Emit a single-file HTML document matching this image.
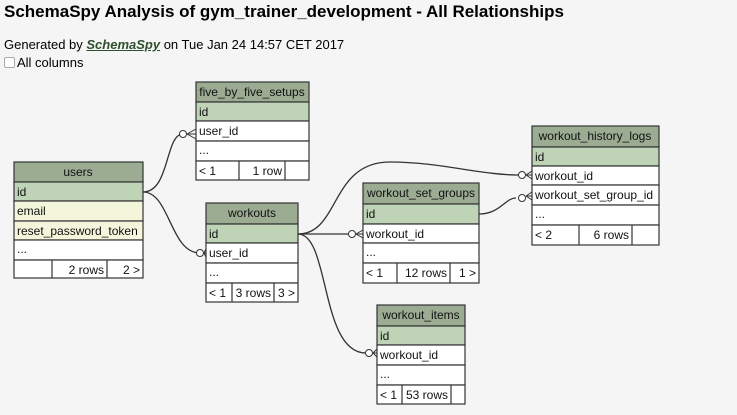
<!DOCTYPE html>
<html><head><meta charset="utf-8"><style>
body{margin:0;background:#f5f5f5;width:737px;height:415px;overflow:hidden;font-family:"Liberation Sans",Arial,sans-serif}
h1{position:absolute;left:4px;top:2px;margin:0;font-size:17px;font-weight:bold;color:#000}
.gen{position:absolute;left:4px;top:37px;font-size:13px}
.gen a{color:#2f4f2f;font-weight:bold;font-style:italic;text-decoration:underline}
.cb{position:absolute;left:4px;top:55px;font-size:13px}
.cb span{display:inline-block;width:9px;height:9px;border:1px solid #aaa;background:#fff;border-radius:2px;vertical-align:-1px;margin-right:2px}
svg{position:absolute;left:0;top:0}
svg text{font-family:"Liberation Sans",Arial,sans-serif;font-size:12px;fill:#111}
</style></head><body>
<h1>SchemaSpy Analysis of gym_trainer_development - All Relationships</h1>
<div class="gen">Generated by <a>SchemaSpy</a> on Tue Jan 24 14:57 CET 2017</div>
<div class="cb"><span></span>All columns</div>
<svg width="737" height="415" viewBox="0 0 737 415">
<g fill="none" stroke="#333" stroke-width="1.3">
<path d="M143,192 C170,192 165,134 183,134"/>
<path d="M143,192 C170,192 170,253 200,253"/>
<path d="M298,234 C340,234 330,162 390,162 C440,162 480,175 519,175"/>
<path d="M298,234 L349,234"/>
<path d="M298,234 C330,234 320,353 366,353"/>
<path d="M479,214 C500,214 505,198 516,198"/>
</g>
<g fill="none" stroke="#333" stroke-width="1">
<circle cx="183" cy="134" r="3.5" fill="#fff"/><path d="M187,134 L196,129 M187,134 L196,134 M187,134 L196,139"/>
<circle cx="200" cy="253" r="3.5" fill="#fff"/><path d="M204,253 L206,249 M204,253 L206,253 M204,253 L206,257"/>
<circle cx="352" cy="234" r="3.5" fill="#fff"/><path d="M356,234 L363,230 M356,234 L363,234 M356,234 L363,238"/>
<circle cx="369" cy="353" r="3.5" fill="#fff"/><path d="M373,353 L377,349 M373,353 L377,353 M373,353 L377,357"/>
<circle cx="522" cy="175" r="3.5" fill="#fff"/><path d="M526,175 L532,171 M526,175 L532,175 M526,175 L532,179"/>
<circle cx="522" cy="198" r="3.5" fill="#fff"/><path d="M526,196 L532,192 M526,196 L532,196 M526,196 L532,200"/>
</g>
<g stroke="#333" stroke-width="1.2">
<!-- users -->
<rect x="14" y="162" width="129" height="20" fill="#9bac93"/>
<rect x="14" y="182" width="129" height="19" fill="#bfd3b6"/>
<rect x="14" y="201" width="129" height="20" fill="#f4f6dc"/>
<rect x="14" y="221" width="129" height="19" fill="#f4f6dc"/>
<rect x="14" y="240" width="129" height="20" fill="#fff"/>
<rect x="14" y="260" width="129" height="18" fill="#fff"/>
<line x1="52" y1="260" x2="52" y2="278"/><line x1="107" y1="260" x2="107" y2="278"/>
<!-- five -->
<rect x="196" y="82" width="113" height="20" fill="#9bac93"/>
<rect x="196" y="102" width="113" height="19" fill="#bfd3b6"/>
<rect x="196" y="121" width="113" height="20" fill="#fff"/>
<rect x="196" y="141" width="113" height="20" fill="#fff"/>
<rect x="196" y="161" width="113" height="19" fill="#fff"/>
<line x1="239" y1="161" x2="239" y2="180"/><line x1="285" y1="161" x2="285" y2="180"/>
<!-- workouts -->
<rect x="206" y="203" width="92" height="21" fill="#9bac93"/>
<rect x="206" y="224" width="92" height="19" fill="#bfd3b6"/>
<rect x="206" y="243" width="92" height="20" fill="#fff"/>
<rect x="206" y="263" width="92" height="20" fill="#fff"/>
<rect x="206" y="283" width="92" height="19" fill="#fff"/>
<line x1="232" y1="283" x2="232" y2="302"/><line x1="274" y1="283" x2="274" y2="302"/>
<!-- wsg -->
<rect x="363" y="183" width="116" height="21" fill="#9bac93"/>
<rect x="363" y="204" width="116" height="20" fill="#bfd3b6"/>
<rect x="363" y="224" width="116" height="19" fill="#fff"/>
<rect x="363" y="243" width="116" height="20" fill="#fff"/>
<rect x="363" y="263" width="116" height="20" fill="#fff"/>
<line x1="397" y1="263" x2="397" y2="283"/><line x1="450" y1="263" x2="450" y2="283"/>
<!-- whl -->
<rect x="532" y="126" width="127" height="21" fill="#9bac93"/>
<rect x="532" y="147" width="127" height="19" fill="#bfd3b6"/>
<rect x="532" y="166" width="127" height="19" fill="#fff"/>
<rect x="532" y="185" width="127" height="20" fill="#fff"/>
<rect x="532" y="205" width="127" height="20" fill="#fff"/>
<rect x="532" y="225" width="127" height="20" fill="#fff"/>
<line x1="579" y1="225" x2="579" y2="245"/><line x1="632" y1="225" x2="632" y2="245"/>
<!-- items -->
<rect x="377" y="305" width="88" height="21" fill="#9bac93"/>
<rect x="377" y="326" width="88" height="19" fill="#bfd3b6"/>
<rect x="377" y="345" width="88" height="20" fill="#fff"/>
<rect x="377" y="365" width="88" height="20" fill="#fff"/>
<rect x="377" y="385" width="88" height="19" fill="#fff"/>
<line x1="402" y1="385" x2="402" y2="404"/><line x1="451" y1="385" x2="451" y2="404"/>
</g>
<g>
<text x="78" y="176" text-anchor="middle">users</text>
<text x="17" y="196">id</text><text x="17" y="215">email</text><text x="17" y="235">reset_password_token</text><text x="17" y="253" font-size="9">...</text>
<text x="104" y="274" text-anchor="end">2 rows</text><text x="140" y="274" text-anchor="end">2 &gt;</text>

<text x="252" y="96" text-anchor="middle">five_by_five_setups</text>
<text x="199" y="116">id</text><text x="199" y="135">user_id</text><text x="199" y="154" font-size="9">...</text>
<text x="199" y="175">&lt; 1</text><text x="282" y="175" text-anchor="end">1 row</text>

<text x="252" y="217" text-anchor="middle">workouts</text>
<text x="209" y="238">id</text><text x="209" y="257">user_id</text><text x="209" y="276" font-size="9">...</text>
<text x="209" y="297">&lt; 1</text><text x="271" y="297" text-anchor="end">3 rows</text><text x="295" y="297" text-anchor="end">3 &gt;</text>

<text x="421" y="197" text-anchor="middle">workout_set_groups</text>
<text x="366" y="218">id</text><text x="366" y="238">workout_id</text><text x="366" y="256" font-size="9">...</text>
<text x="366" y="277">&lt; 1</text><text x="447" y="277" text-anchor="end">12 rows</text><text x="476" y="277" text-anchor="end">1 &gt;</text>

<text x="595" y="140" text-anchor="middle">workout_history_logs</text>
<text x="535" y="161">id</text><text x="535" y="180">workout_id</text><text x="535" y="199">workout_set_group_id</text><text x="535" y="218" font-size="9">...</text>
<text x="535" y="239">&lt; 2</text><text x="629" y="239" text-anchor="end">6 rows</text>

<text x="421" y="319" text-anchor="middle">workout_items</text>
<text x="380" y="340">id</text><text x="380" y="359">workout_id</text><text x="380" y="378" font-size="9">...</text>
<text x="380" y="399">&lt; 1</text><text x="448" y="399" text-anchor="end">53 rows</text>
</g>
</svg>
</body></html>
